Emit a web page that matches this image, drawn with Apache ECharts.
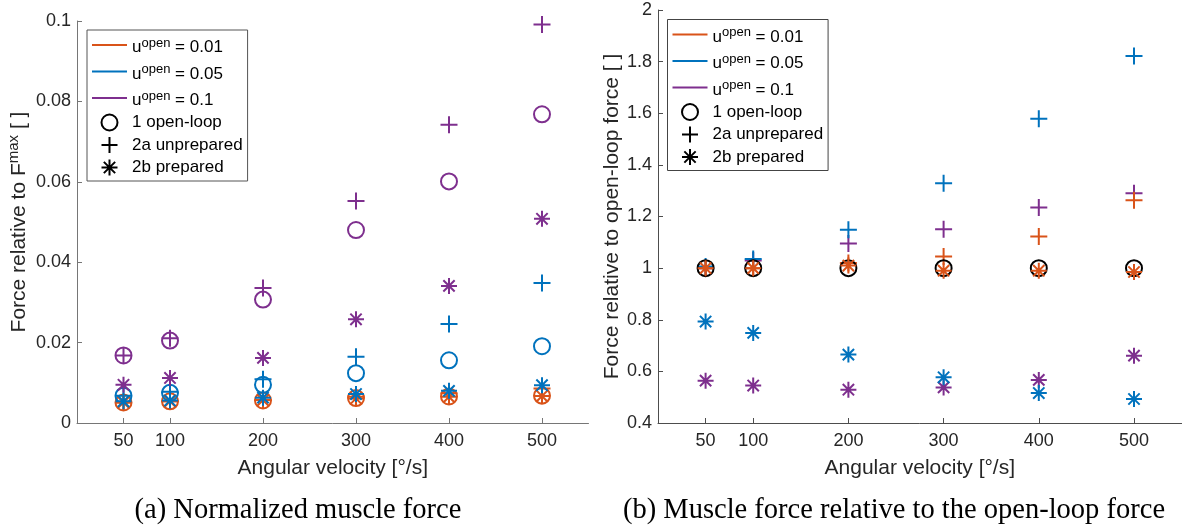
<!DOCTYPE html>
<html>
<head>
<meta charset="utf-8">
<script src="https://cdn.jsdelivr.net/npm/echarts@6/dist/echarts.min.js"></script>
<style>
  html, body { margin: 0; padding: 0; background: #fff; }
  #chart { width: 1182px; height: 526px; }
</style>
</head>
<body>
<div id="chart"></div>
<script>
// Angular velocities of the perturbation [deg/s]
const velocities = [50, 100, 200, 300, 400, 500];

// Muscle force normalised by F^max, per open-loop activation level u^open
const openLoop001 = [0.0051, 0.0054, 0.0056, 0.0062, 0.0066, 0.0068];
const unprep001   = [0.0051, 0.0054, 0.0057, 0.0065, 0.0074, 0.0086];
const prep001     = [0.0051, 0.0054, 0.0057, 0.0061, 0.0065, 0.0067];
const openLoop005 = [0.0068, 0.0075, 0.0095, 0.0124, 0.0156, 0.0191];
const unprep005   = [0.0068, 0.0078, 0.0109, 0.0165, 0.0246, 0.0348];
const prep005     = [0.0054, 0.0056, 0.0063, 0.0072, 0.0080, 0.0094];
const openLoop01  = [0.0168, 0.0205, 0.0307, 0.0480, 0.0601, 0.0768];
const unprep01    = [0.0168, 0.0211, 0.0336, 0.0552, 0.0742, 0.0991];
const prep01      = [0.0095, 0.0112, 0.0162, 0.0258, 0.0341, 0.0508];

// Muscle force relative to the open-loop force
const relOpenLoop  = [1, 1, 1, 1, 1, 1];
const relUnprep001 = [1.0, 1.0, 1.02, 1.045, 1.123, 1.263];
const relPrep001   = [1.0, 1.0, 1.01, 0.99, 0.99, 0.985];
const relUnprep005 = [1.006, 1.035, 1.149, 1.329, 1.579, 1.822];
const relPrep005   = [0.793, 0.749, 0.665, 0.577, 0.516, 0.493];
const relUnprep01  = [1.0, 1.03, 1.095, 1.151, 1.235, 1.29];
const relPrep01    = [0.564, 0.545, 0.529, 0.538, 0.567, 0.661];

// Legend labels
const legendLines = ['u^open = 0.01', 'u^open = 0.05', 'u^open = 0.1'];
const legendMarkers = ['1 open-loop', '2a unprepared', '2b prepared'];

const ORANGE = '#D95319';
const BLUE = '#0072BD';
const PURPLE = '#7E2F8E';
const BLACK = '#000000';
const SANS = 'Liberation Sans';
const SERIF = 'Liberation Serif';
const TEXT = '#262626';

const SYM_CIRCLE = 'circle';
const SYM_PLUS = 'path://M0,-10L0,10M-10,0L10,0';
const SYM_STAR = 'path://M0,-10L0,10M-10,0L10,0M-7.07,-7.07L7.07,7.07M-7.07,7.07L7.07,-7.07';
const SYM_LINE = 'path://M0,0H35V2H0Z';

function markers(name, gridIdx, values, symbol, color, size) {
  return {
    type: 'scatter',
    name: name,
    xAxisIndex: gridIdx,
    yAxisIndex: gridIdx,
    data: velocities.map((v, i) => [v, values[i]]),
    symbol: symbol,
    symbolSize: size,
    itemStyle: { color: 'rgba(0,0,0,0)', borderColor: color, borderWidth: 2, opacity: 1 },
    silent: true,
    animation: false
  };
}

// Series that only carry the legend entries
const legendColors = [ORANGE, BLUE, PURPLE];
const legendSymbols = [SYM_CIRCLE, SYM_PLUS, SYM_STAR];
const legendSeries = legendLines.map((n, i) => ({
  type: 'scatter', name: n, data: [], xAxisIndex: 0, yAxisIndex: 0,
  itemStyle: { color: legendColors[i], opacity: 1 }
})).concat(legendMarkers.map((n, i) => ({
  type: 'scatter', name: n, data: [], xAxisIndex: 0, yAxisIndex: 0,
  symbol: legendSymbols[i],
  itemStyle: { color: 'rgba(0,0,0,0)', borderColor: BLACK, borderWidth: 2, opacity: 1 }
})));

const legendData = legendLines.map((n, i) => ({
  name: n, icon: SYM_LINE,
  itemStyle: { color: legendColors[i], borderWidth: 0, opacity: 1 }
})).concat(legendMarkers.map((n, i) => ({
  name: n, icon: legendSymbols[i],
  itemStyle: { color: 'rgba(0,0,0,0)', borderColor: BLACK, borderWidth: 2, opacity: 1 }
})));

function legendAt(left, top, border) {
  return {
    orient: 'vertical',
    left: left, top: top,
    data: legendData,
    selectedMode: false,
    itemWidth: 35, itemHeight: 16, itemGap: 4.5,
    padding: [4, 5, 4.5, 5],
    borderColor: border, borderWidth: 1,
    backgroundColor: '#fff',
    symbolKeepAspect: true,
    formatter: function (name) {
      if (name.indexOf('u^open') === 0) {
        return '{a|u}{s|open}{a|' + name.slice(6) + '}';
      }
      return name;
    },
    textStyle: {
      fontFamily: SANS, fontSize: 17, lineHeight: 17, color: '#000',
      rich: {
        a: { fontFamily: SANS, fontSize: 17, lineHeight: 17, padding: [5, 0, 0, 0], color: '#000' },
        s: { fontFamily: SANS, fontSize: 13, lineHeight: 13, verticalAlign: 'top', color: '#000' }
      }
    }
  };
}

function xAxisFor(gridIdx, axisColor) {
  return {
    gridIndex: gridIdx,
    type: 'value', min: 0, max: 550,
    splitLine: { show: false },
    axisLine: { show: true, onZero: false, lineStyle: { color: axisColor, width: 1 } },
    axisTick: { show: true, inside: true, length: 5, customValues: velocities, lineStyle: { color: axisColor } },
    axisLabel: { customValues: velocities, margin: 9, fontSize: 18, fontFamily: SANS, color: TEXT },
    name: 'Angular velocity [°/s]',
    nameLocation: 'middle', nameGap: 34.5,
    nameTextStyle: { fontSize: 21, lineHeight: 21, fontFamily: SANS, color: TEXT }
  };
}

function yAxisFor(gridIdx, min, max, interval, name, nameGap, axisColor, rich) {
  const ax = {
    gridIndex: gridIdx,
    type: 'value', min: min, max: max, interval: interval,
    splitLine: { show: false },
    axisLine: { show: true, lineStyle: { color: axisColor, width: 1 } },
    axisTick: { show: true, inside: true, length: 5, lineStyle: { color: axisColor } },
    axisLabel: { margin: 6, fontSize: 18, fontFamily: SANS, color: TEXT },
    name: name,
    nameLocation: 'middle', nameRotate: 90, nameGap: nameGap,
    nameTextStyle: { fontSize: 21, lineHeight: 21, fontFamily: SANS, color: TEXT }
  };
  if (rich) ax.nameTextStyle.rich = rich;
  return ax;
}

const supRich = {
  a: { fontFamily: SANS, fontSize: 21, lineHeight: 21, padding: [6, 0, 0, 0], color: TEXT },
  s: { fontFamily: SANS, fontSize: 15, lineHeight: 15, verticalAlign: 'top', color: TEXT }
};

const LEFT_AXIS = '#767676';
const RIGHT_AXIS = '#4d4d4d';

const option = {
  animation: false,
  backgroundColor: '#fff',
  grid: [
    { left: 77, top: 21, width: 511.5, height: 402 },
    { left: 658, top: 10, width: 523.6, height: 413 }
  ],
  xAxis: [xAxisFor(0, LEFT_AXIS), xAxisFor(1, RIGHT_AXIS)],
  yAxis: [
    yAxisFor(0, 0, 0.1, 0.02, '{a|Force relative to F}{s|max}{a| [ ]}', 50, LEFT_AXIS, supRich),
    yAxisFor(1, 0.4, 2, 0.2, 'Force relative to open-loop force [ ]', 34.5, RIGHT_AXIS, null)
  ],
  legend: [legendAt(87, 30, '#555'), legendAt(667.5, 19.5, '#444')],
  graphic: [
    { type: 'text', x: 298, y: 511, silent: true,
      style: { text: '(a) Normalized muscle force', fontFamily: SERIF, fontSize: 28.5,
               fill: '#000', align: 'center', verticalAlign: 'middle' } },
    { type: 'text', x: 894, y: 511, silent: true,
      style: { text: '(b) Muscle force relative to the open-loop force', fontFamily: SERIF, fontSize: 28.5,
               fill: '#000', align: 'center', verticalAlign: 'middle' } }
  ],
  series: legendSeries.concat([
    // (a) normalised force
    markers('F/Fmax 0.01 open-loop', 0, openLoop001, SYM_CIRCLE, ORANGE, 16),
    markers('F/Fmax 0.05 open-loop', 0, openLoop005, SYM_CIRCLE, BLUE, 16),
    markers('F/Fmax 0.1 open-loop', 0, openLoop01, SYM_CIRCLE, PURPLE, 16),
    markers('F/Fmax 0.01 unprepared', 0, unprep001, SYM_PLUS, ORANGE, 17),
    markers('F/Fmax 0.05 unprepared', 0, unprep005, SYM_PLUS, BLUE, 17),
    markers('F/Fmax 0.1 unprepared', 0, unprep01, SYM_PLUS, PURPLE, 17),
    markers('F/Fmax 0.01 prepared', 0, prep001, SYM_STAR, ORANGE, 16),
    markers('F/Fmax 0.05 prepared', 0, prep005, SYM_STAR, BLUE, 16),
    markers('F/Fmax 0.1 prepared', 0, prep01, SYM_STAR, PURPLE, 16),
    // (b) relative to open-loop
    markers('rel 0.1 unprepared', 1, relUnprep01, SYM_PLUS, PURPLE, 17),
    markers('rel 0.05 unprepared', 1, relUnprep005, SYM_PLUS, BLUE, 17),
    markers('rel 0.01 unprepared', 1, relUnprep001, SYM_PLUS, ORANGE, 17),
    markers('rel open-loop', 1, relOpenLoop, SYM_CIRCLE, BLACK, 16),
    markers('rel 0.1 prepared', 1, relPrep01, SYM_STAR, PURPLE, 16),
    markers('rel 0.05 prepared', 1, relPrep005, SYM_STAR, BLUE, 16),
    markers('rel 0.01 prepared', 1, relPrep001, SYM_STAR, ORANGE, 16)
  ])
};

const chart = echarts.init(document.getElementById('chart'), null, { renderer: 'canvas' });
chart.setOption(option);
</script>
</body>
</html>
